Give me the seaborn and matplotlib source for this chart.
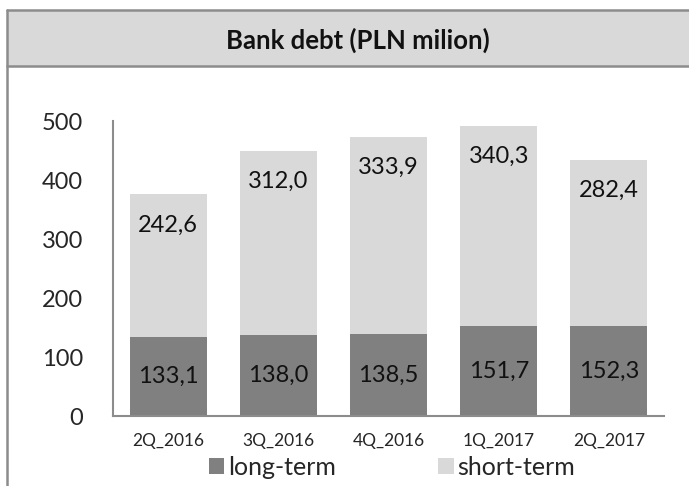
import matplotlib
matplotlib.use("Agg")
import matplotlib.pyplot as plt
import seaborn as sns
import pandas as pd
from matplotlib.patches import Rectangle, Patch
from matplotlib.lines import Line2D

categories = ["2Q_2016", "3Q_2016", "4Q_2016", "1Q_2017", "2Q_2017"]
long_term = [133.1, 138.0, 138.5, 151.7, 152.3]
short_term = [242.6, 312.0, 333.9, 340.3, 282.4]
title = "Bank debt (PLN milion)"
yticks = [0, 100, 200, 300, 400, 500]

DARK = "#808080"
LIGHT = "#d9d9d9"
EDGE = "#8c8c8c"

sns.set_theme(style="white")
plt.rcParams["font.family"] = ["Lato", "DejaVu Sans"]

df = pd.DataFrame({"cat": categories, "long": long_term, "short": short_term})
df["total"] = df["long"] + df["short"]

W, H = 689, 486
fig = plt.figure(figsize=(W / 100, H / 100), dpi=100)
ax = fig.add_axes([113 / W, 1 - 416 / H, (664 - 113) / W, (416 - 121) / H])

sns.barplot(data=df, x="cat", y="total", color=LIGHT, width=0.7, ax=ax,
            saturation=1, edgecolor="none")
sns.barplot(data=df, x="cat", y="long", color=DARK, width=0.7, ax=ax,
            saturation=1, edgecolor="none")

ax.set_xlim(-0.5, len(categories) - 0.5)
ax.set_ylim(0, 500)
ax.set_yticks(yticks)
ax.set_yticklabels([str(v) for v in yticks], fontsize=17)
ax.set_xlabel("")
ax.set_ylabel("")
ax.tick_params(axis="x", which="major", length=0, labelsize=12.5, pad=12)
ax.set_xticks([i - 0.5 for i in range(len(categories) + 1)], minor=True)
ax.tick_params(axis="x", which="minor", length=4.5, width=1.5, color=EDGE, direction="out")
ax.tick_params(axis="y", which="major", length=4.5, width=1.5, color=EDGE, direction="out", pad=17)
for s in ["top", "right"]:
    ax.spines[s].set_visible(False)
for s in ["left", "bottom"]:
    ax.spines[s].set_color(EDGE)
    ax.spines[s].set_linewidth(1.5)

for i, (lt, st) in enumerate(zip(long_term, short_term)):
    ax.text(i, lt / 2, f"{lt:.1f}".replace(".", ","), ha="center", va="center",
            fontsize=17, color="#111111")
    ax.annotate(f"{st:.1f}".replace(".", ","), xy=(i, lt + st), xytext=(0, -22),
                textcoords="offset points", ha="center", va="center",
                fontsize=17, color="#111111")

# title band and frame
fig.patches.append(Rectangle((7 / W, 1 - 66 / H), 1, (66 - 10) / H,
                             transform=fig.transFigure, facecolor=LIGHT,
                             edgecolor="none", zorder=0))
fig.lines.append(Line2D([7 / W, 1], [1 - 10 / H] * 2, transform=fig.transFigure,
                        color=EDGE, lw=1.8))
fig.lines.append(Line2D([7 / W, 1], [1 - 66 / H] * 2, transform=fig.transFigure,
                        color=EDGE, lw=1.8))
fig.lines.append(Line2D([7 / W] * 2, [0, 1 - 10 / H], transform=fig.transFigure,
                        color=EDGE, lw=1.8))
fig.text(358 / W, 1 - 40 / H, title, ha="center", va="center",
         fontsize=18.5, fontweight="bold", color="#111111")

handles = [Patch(facecolor=DARK, edgecolor="none", label="long-term"),
           Patch(facecolor=LIGHT, edgecolor="none", label="short-term")]
fig.legend(handles=handles, loc="center", bbox_to_anchor=(392 / W, 1 - 467 / H),
           ncol=2, frameon=False, fontsize=18, handlelength=0.62, handleheight=0.62,
           handletextpad=0.15, columnspacing=4.1, borderpad=0)

fig.savefig("out.png", dpi=100)
